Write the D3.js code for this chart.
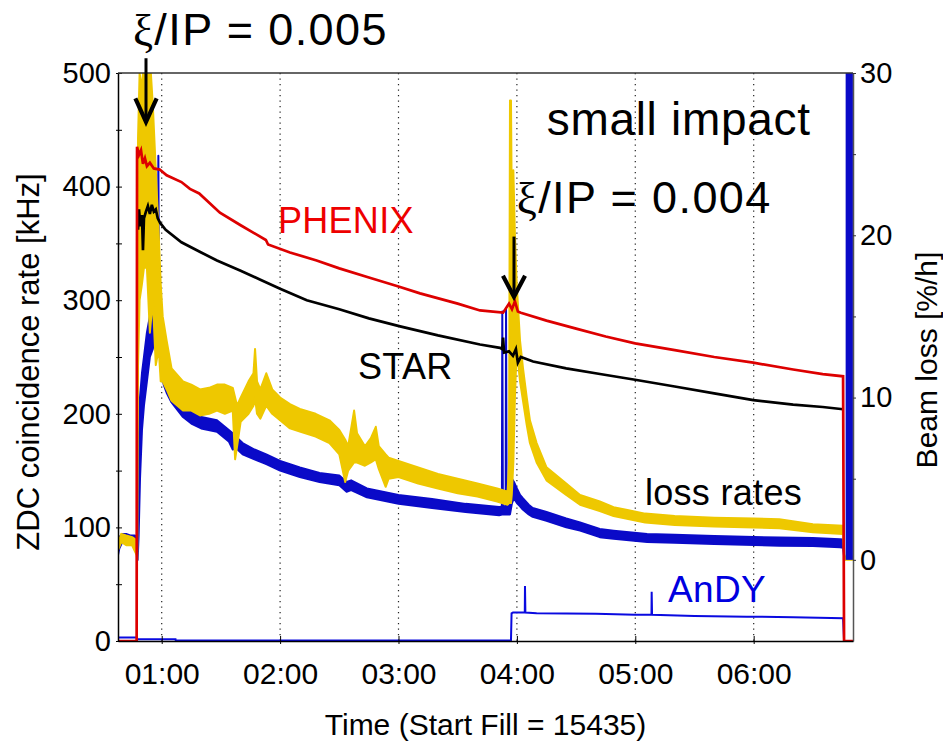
<!DOCTYPE html>
<html>
<head>
<meta charset="utf-8">
<script src="https://cdn.jsdelivr.net/npm/d3@7"></script>
<style>
  body { margin: 0; background: #fff; }
  svg { display: block; font-family: "Liberation Sans", Arial, sans-serif; }
</style>
</head>
<body>
<div id="chart"></div>
<script>
// times are minutes after 00:00, rates in kHz (left axis), losses in %/h (right axis)
const hourTicks = ["01:00", "02:00", "03:00", "04:00", "05:00", "06:00"];

const phenixT = [37.85, 47.3, 47.5, 48.5, 49.5, 50.5, 51.5, 52.5, 54, 56, 59, 62.5, 70, 74.3, 79, 89.5, 100, 112.8, 113.9,
  125, 138.5, 150, 165, 180, 190.9, 210, 221.3, 233, 236, 237.5, 239, 240.5, 242, 255, 270, 285, 299.9, 320, 340, 359.8, 380, 395, 405.3, 405.8, 410.3];
const phenixV = [0, 0, 435, 428, 432, 420, 425, 418, 421, 416, 415, 410, 404, 398, 394, 377, 366, 353, 349,
  342, 335, 328, 320, 312, 306, 297, 291, 289, 297, 292, 299, 290, 289, 282, 275, 268, 262, 256, 250, 245, 239, 235, 233, 0, 0];

const starT = [48.0, 48.5, 49.2, 50, 50.5, 51, 52, 53, 54, 55, 56, 57, 58, 59.2, 62, 70, 80, 88, 100, 110, 120, 133.5, 150, 165,
  180.8, 200, 221.3, 231.4, 232.5, 233, 233.5, 236, 238, 239.5, 240.5, 242, 248.2, 265, 282.1, 299.9, 320, 340, 359.8, 380, 395, 405.3];
const starV = [362, 380, 365, 375, 344, 372, 378, 383, 376, 384, 378, 380, 372, 368, 362, 351, 342, 335, 326, 318, 310, 300, 292, 284,
  277, 269, 261, 258, 257, 267, 254, 255, 251, 257, 245, 250, 246, 240, 235, 230, 224, 218, 212, 208, 206, 204];

// noisy loss traces: lower / upper edge of the band
const blueT = [37.85, 38.5, 40, 42, 44, 46.5, 47.3, 47.8, 48.3, 49, 50, 51, 52.5, 54, 55.5, 57, 58.1, 58.3, 58.6, 60, 61, 62.5, 65,
  70.8, 75, 80, 88, 94, 96, 97.5, 101, 107, 113, 120, 130, 140, 150, 153.7, 156, 164, 180, 197, 214, 231, 232.4, 232.6, 232.9,
  234.3, 234.5, 234.8, 236.5, 237.5, 238.5, 240, 241.6, 243, 246, 248, 255, 265, 272, 282, 289, 306, 320, 340, 373, 390, 403.7, 405.3, 406];
const blueLo = [0.3, 0.7, 1.1, 1.1, 1.0, 1.0, 0.8, 0, 1.5, 5, 8, 9.5, 11, 12.5, 13, 14, 15, 15, 13, 11.5, 10.8, 10.3, 9.7,
  8.8, 8.4, 8.1, 7.9, 7.3, 6.8, 6.9, 6.5, 6.2, 5.9, 5.5, 5.1, 4.8, 4.6, 4.2, 4.3, 3.85, 3.45, 3.2, 2.95, 2.75, 2.8, 2.8, 2.8,
  2.8, 2.8, 2.8, 2.8, 3.5, 3.8, 3.5, 3.3, 3.1, 2.8, 2.65, 2.4, 2.0, 1.8, 1.4, 1.3, 1.1, 1.05, 0.97, 0.87, 0.85, 0.77, 0.75, 0];
const blueHi = [0.8, 1.4, 1.6, 1.6, 1.5, 1.5, 1.3, 0.5, 7, 10, 11.5, 12.5, 14, 15, 15.5, 16.2, 16.5, 24.9, 16, 14, 12, 11.3, 10.6,
  9.6, 9.2, 8.8, 8.6, 8.0, 7.8, 7.6, 7.2, 6.8, 6.5, 6.1, 5.7, 5.35, 5.2, 4.8, 4.9, 4.4, 4.0, 3.75, 3.45, 3.25, 3.3, 15.3, 3.3,
  3.3, 15.5, 3.3, 3.4, 5.0, 4.8, 4.4, 4.0, 3.8, 3.4, 3.2, 2.95, 2.55, 2.3, 1.9, 1.8, 1.6, 1.55, 1.47, 1.37, 1.35, 1.27, 1.25, 0];

const yellowT = [37.85, 39.5, 42, 45, 47.3, 47.6, 48.0, 48.8, 50, 51, 52.5, 54, 55.5, 57, 58.5, 59.5, 60.5, 62.5, 65, 70.8, 75,
  79.4, 84, 88, 92, 96, 97.2, 98.2, 100, 104, 106.5, 107.3, 108.3, 110, 113, 116, 120, 125, 130, 138, 145, 150, 153, 154.5,
  157.5, 159, 163, 166, 168.5, 170, 173.5, 175, 180, 190, 200, 210, 220, 230, 235.3, 236.0, 236.5, 237.0, 237.4, 238.2, 239.0,
  239.9, 241.6, 243.1, 245, 246.6, 250, 255, 265, 272, 282, 289, 305, 320, 340, 360, 373, 390, 405.3, 406, 410.3];
const yellowLo = [0.6, 1.1, 0.9, 0.9, 0.3, 0.0, 12, 16, 17, 18, 18, 14, 16, 12, 13, 11, 11, 10.5, 9.8, 9.2, 9.2,
  8.9, 9.0, 9.2, 9.0, 9.2, 6.2, 7.0, 8.5, 9.0, 9.5, 10, 9.0, 8.7, 9.5, 9.0, 8.6, 8.1, 7.9, 7.6, 7.2, 6.5, 4.8, 5.5,
  6.0, 6.0, 5.8, 6.0, 6.2, 5.6, 4.5, 5.0, 5.1, 4.7, 4.4, 4.1, 3.9, 3.6, 3.4, 3.5, 3.5, 3.5, 4, 6, 10,
  13, 11, 9.8, 8.3, 7.2, 6.0, 4.9, 4.0, 3.4, 3.0, 2.7, 2.3, 2.15, 2.05, 2.0, 1.95, 1.7, 1.6, 0, 0];
const yellowHi = [1.0, 1.6, 1.5, 1.4, 1.2, 0.4, 26, 30, 29, 31, 31, 31, 28, 24, 20, 17, 15, 13.5, 11.8, 11, 10.8,
  10.5, 10.6, 10.8, 10.8, 10.6, 10, 9.5, 10.0, 11.0, 11.5, 13, 11, 10.5, 11.5, 10.5, 10, 9.6, 9.3, 9.0, 8.6, 8.0, 7.4, 7.0,
  9.2, 7.8, 7.0, 7.5, 8.2, 7.0, 6.5, 6.3, 6.1, 5.7, 5.3, 5.0, 4.7, 4.4, 4.2, 6, 28.3, 28.3, 22, 24, 20,
  17, 13.5, 11.8, 10, 8.6, 7.2, 5.7, 4.7, 4.0, 3.6, 3.25, 2.85, 2.7, 2.6, 2.55, 2.5, 2.2, 2.1, 0.2, 0.2];

// blue loss saturating after the beam dump
const dumpT = [406.6, 410.3];
const dumpV = [0, 30];

const andyT = [37.85, 47.5, 47.6, 67, 67.1, 237.0, 237.3, 238, 244.0, 244.1, 244.3, 250, 280, 299.9, 308.2, 308.3, 308.5, 330, 356.5, 380, 405.3, 405.8, 410.3];
const andyV = [3, 3, 1.5, 1.5, 0.5, 0.5, 24.4, 25, 25, 48.4, 25, 24.5, 24, 23, 23, 43.4, 23, 22, 21.4, 21, 20, 0, 0];

const margin = { top: 73, right: 90, bottom: 101, left: 118 };
const width = 943 - margin.left - margin.right;
const height = 742 - margin.top - margin.bottom;

const base = new Date(2000, 0, 1, 0, 0, 0).getTime();
const tm = m => new Date(base + m * 60000);

const x = d3.scaleTime().domain([tm(37.85), tm(410.33)]).range([0, width]);
const yL = d3.scaleLinear().domain([0, 500]).range([height, 0]);
const yR = d3.scaleLinear().domain([-5, 30]).range([height, 0]);

const svg = d3.select("#chart").append("svg")
  .attr("width", 943).attr("height", 742)
  .append("g")
  .attr("transform", "translate(" + margin.left + "," + margin.top + ")");

svg.append("clipPath").attr("id", "clip")
  .append("rect").attr("width", width).attr("height", height);

// dotted hour grid
const hourDates = hourTicks.map(s => tm(+s.slice(0, 2) * 60));
svg.selectAll(".grid").data(hourDates).enter().append("line")
  .attr("x1", d => x(d)).attr("x2", d => x(d))
  .attr("y1", 0).attr("y2", height)
  .attr("stroke", "#222").attr("stroke-width", 1.2)
  .attr("stroke-dasharray", "1.2,4.3");

const plot = svg.append("g").attr("clip-path", "url(#clip)");

function series(ts, vs, y) {
  return ts.map((t, i) => ({ t: tm(t), v: vs[i], y: y }));
}
function band(ts, lo, hi) {
  return ts.map((t, i) => ({ t: tm(t), lo: lo[i], hi: hi[i] }));
}
const line = d3.line().x(d => x(d.t)).y(d => d.y(d.v));
const area = d3.area().x(d => x(d.t)).y0(d => yR(d.lo)).y1(d => yR(d.hi));

plot.append("path").datum(band(blueT, blueLo, blueHi))
  .attr("d", area).attr("fill", "#0a0ac8")
  .attr("stroke", "#0a0ac8").attr("stroke-width", 2).attr("stroke-linejoin", "round");

plot.append("path").datum(band(yellowT, yellowLo, yellowHi))
  .attr("d", area).attr("fill", "#eec800")
  .attr("stroke", "#eec800").attr("stroke-width", 2).attr("stroke-linejoin", "round");

plot.append("rect")
  .attr("x", x(tm(dumpT[0]))).attr("width", x(tm(dumpT[1])) - x(tm(dumpT[0])))
  .attr("y", yR(dumpV[1])).attr("height", yR(dumpV[0]) - yR(dumpV[1]))
  .attr("fill", "#0a0ac8");

plot.append("path").datum(series(andyT, andyV, yL))
  .attr("d", line).attr("fill", "none")
  .attr("stroke", "#0a0ae0").attr("stroke-width", 2);

plot.append("path").datum(series(starT, starV, yL))
  .attr("d", line).attr("fill", "none")
  .attr("stroke", "#000").attr("stroke-width", 2.7);

plot.append("path").datum(series(phenixT, phenixV, yL))
  .attr("d", line).attr("fill", "none")
  .attr("stroke", "#dd0000").attr("stroke-width", 2.7);

// axes
const fontTick = "29px";

const gL = svg.append("g")
  .call(d3.axisLeft(yL).tickValues(d3.range(0, 501, 50))
    .tickFormat(d => d % 100 === 0 ? d : "")
    .tickSizeInner(-4).tickSizeOuter(0).tickPadding(7));
gL.selectAll(".tick line").attr("x1", -2).attr("stroke", "#000");
gL.select(".domain").attr("stroke", "#000").attr("stroke-width", 1.5);
gL.selectAll("text").style("font-size", fontTick).attr("fill", "#000");

const gR = svg.append("g").attr("transform", "translate(" + width + ",0)")
  .call(d3.axisRight(yR).tickValues([0, 5, 10, 15, 20, 25, 30])
    .tickFormat(d => d % 10 === 0 ? d : "")
    .tickSizeInner(3).tickSizeOuter(0).tickPadding(4));
gR.select(".domain").attr("stroke", "#555").attr("stroke-width", 1.5);
gR.selectAll(".tick line").attr("stroke", "#333");
gR.selectAll("text").style("font-size", fontTick).attr("fill", "#000");

const gB = svg.append("g").attr("transform", "translate(0," + height + ")")
  .call(d3.axisBottom(x).tickValues(hourDates)
    .tickFormat(d3.timeFormat("%H:%M"))
    .tickSizeInner(-5).tickSizeOuter(0).tickPadding(22));
gB.selectAll(".tick line").attr("y1", 3).attr("stroke", "#000");
gB.select(".domain").attr("stroke", "#000").attr("stroke-width", 1.5);
gB.selectAll("text").style("font-size", "30px").attr("fill", "#000");

// top frame
svg.append("line").attr("x1", 0).attr("x2", width).attr("y1", 0).attr("y2", 0)
  .attr("stroke", "#333").attr("stroke-width", 1.5);

// axis titles
svg.append("text")
  .attr("x", width / 2).attr("y", height + 94)
  .attr("text-anchor", "middle").style("font-size", "30px")
  .text("Time (Start Fill = 15435)");

svg.append("text")
  .attr("transform", "rotate(-90)")
  .attr("x", -289).attr("y", -79)
  .attr("text-anchor", "middle").style("font-size", "31px")
  .text("ZDC coincidence rate [kHz]");

svg.append("text")
  .attr("transform", "rotate(-90)")
  .attr("x", -287).attr("y", width + 84)
  .attr("text-anchor", "middle").style("font-size", "30px")
  .text("Beam loss [%/h]");

// series labels, anchored in data space
const notes = [
  { text: "PHENIX", t: 118.9, v: 359, color: "#ee0000", size: 36 },
  { text: "STAR", t: 159.5, v: 230.6, color: "#000", size: 36 },
  { text: "loss rates", t: 304.9, v: 119.7, color: "#000", size: 36 },
  { text: "AnDY", t: 316.6, v: 34.6, color: "#0000e0", size: 37 },
  { text: "small impact", t: 255.1, v: 445.4, color: "#000", size: 46 }
];
svg.selectAll(".note").data(notes).enter().append("text")
  .attr("x", d => x(tm(d.t))).attr("y", d => yL(d.v))
  .attr("fill", d => d.color).style("font-size", d => d.size + "px")
  .style("letter-spacing", d => d.size > 40 ? "0.7px" : "0.3px")
  .text(d => d.text);

const xiNotes = [
  { rest: "/IP = 0.005", t: 45.4, v: 524.6 },
  { rest: "/IP = 0.004", t: 239.9, v: 376.5 }
];
xiNotes.forEach(n => {
  const tx = svg.append("text")
    .attr("x", x(tm(n.t))).attr("y", yL(n.v))
    .style("font-size", "45px").style("letter-spacing", "1.4px").attr("fill", "#000");
  tx.append("tspan").style("font-family", "'Liberation Serif', 'DejaVu Serif', serif").text("ξ");
  tx.append("tspan").text(n.rest);
});

// arrows
const arrows = [
  { t: 52.04, top: 513, tip: 457, dt: 5.4, dv: 20.6 },
  { t: 238.53, top: 356, tip: 303, dt: 5.6, dv: 18.5 }
];
arrows.forEach(a => {
  svg.append("line")
    .attr("x1", x(tm(a.t))).attr("x2", x(tm(a.t)))
    .attr("y1", yL(a.top)).attr("y2", yL(a.tip) - 2)
    .attr("stroke", "#000").attr("stroke-width", 3);
  svg.append("path")
    .attr("d", d3.line()([
      [x(tm(a.t - a.dt)), yL(a.tip + a.dv)],
      [x(tm(a.t)), yL(a.tip)],
      [x(tm(a.t + a.dt)), yL(a.tip + a.dv)]
    ]))
    .attr("fill", "none").attr("stroke", "#000").attr("stroke-width", 4.2)
    .attr("stroke-linejoin", "miter");
});
</script>
</body>
</html>
